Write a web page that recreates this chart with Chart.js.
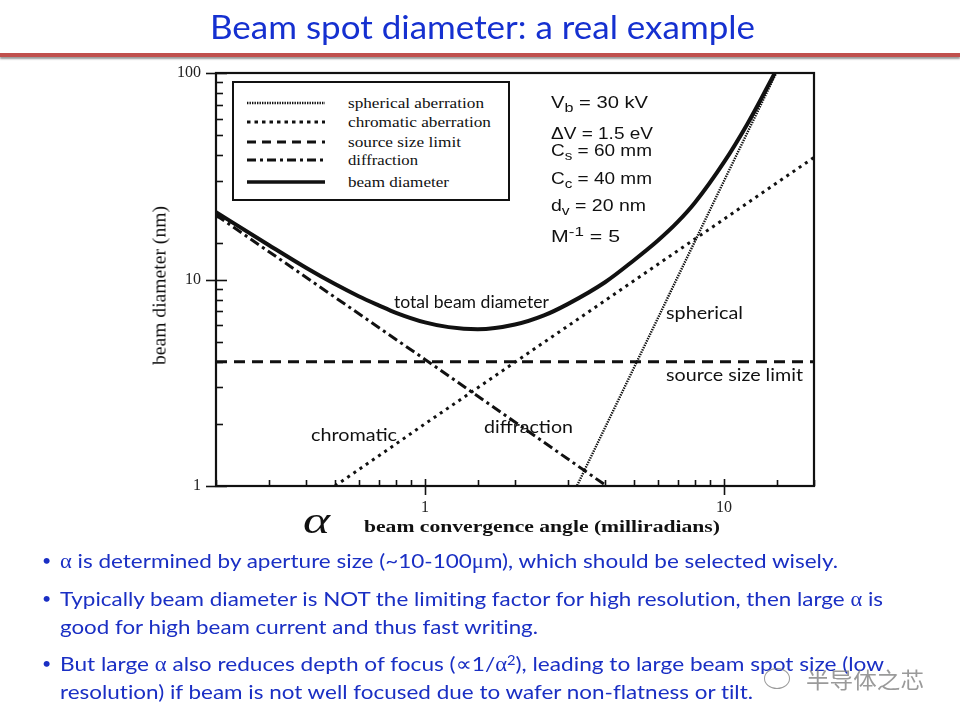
<!DOCTYPE html>
<html><head><meta charset="utf-8">
<script src="https://cdn.jsdelivr.net/npm/chart.js@4/dist/chart.umd.min.js"></script>
<style>
html,body{margin:0;padding:0;background:#fff;}
body{width:960px;height:720px;position:relative;overflow:hidden;}
#c{position:absolute;left:0;top:0;}
.t{position:absolute;white-space:nowrap;line-height:1;transform-origin:left center;}
#rule{position:absolute;left:0;top:53px;width:960px;height:4px;background:#c0504d;box-shadow:0 2px 2px #9a9a9a;}
#legend{position:absolute;left:232px;top:81px;width:278px;height:120px;border:2px solid #111;box-sizing:border-box;background:#fff;}
.sy{font-family:"Liberation Serif",serif;}
</style>
</head><body>
<div id="rule"></div>
<canvas id="c" width="960" height="720"></canvas>
<div id="legend"><svg width="278" height="120" style="position:absolute;left:-2px;top:-2px">
<line x1="15" y1="22" x2="93" y2="22" stroke="#111" stroke-width="2.4" stroke-dasharray="1.4 1.1"/>
<line x1="15" y1="41" x2="93" y2="41" stroke="#111" stroke-width="3" stroke-dasharray="3.5 4"/>
<line x1="15" y1="61" x2="93" y2="61" stroke="#111" stroke-width="3" stroke-dasharray="9 6"/>
<line x1="15" y1="79" x2="93" y2="79" stroke="#111" stroke-width="3" stroke-dasharray="9 4 3 4"/>
<line x1="15" y1="101" x2="93" y2="101" stroke="#111" stroke-width="3.5"/>
</svg></div>
<script>
// ---------- data ----------
const angleTickLabels = [1, 10];          // milliradians
const diameterTickLabels = [1, 10, 100];  // nm
const sphericalAngle = [3.2, 10, 15];
const sphericalDiam  = [0.98, 30, 101];
const chromaticAngle = [0.5, 1, 20];
const chromaticDiam  = [1.0, 2.0, 39];
const sourceAngle = [0.2, 20];
const sourceDiam  = [4, 4];
const diffractionAngle = [0.2, 1, 4.05];
const diffractionDiam  = [20.5, 4.1, 1.0];
const beamAngle = [0.2, 0.3, 0.4, 0.5, 0.6, 0.7, 0.8, 1.0, 1.2, 1.5, 2, 2.5, 3, 4, 5, 6, 7, 8, 10, 12, 14, 15];
const beamDiam  = [21.2, 14.7, 11.4, 9.5, 8.3, 7.5, 6.9, 6.2, 5.88, 5.74, 6.05, 6.7, 7.6, 9.7, 12.4, 15.4, 19.0, 23.6, 37, 57, 86, 104];
const seriesNames = ['spherical aberration','chromatic aberration','source size limit','diffraction','beam diameter'];

const pts = (xs, ys) => xs.map((x, i) => ({x, y: ys[i]}));
const isPow10 = v => Math.abs(Math.log10(v) - Math.round(Math.log10(v))) < 1e-6;

const frameTicks = {
  id: 'frameTicks',
  afterDraw(chart) {
    const {ctx, chartArea: a, scales: {x, y}} = chart;
    ctx.save();
    ctx.strokeStyle = '#111';
    ctx.lineWidth = 1.6;
    x.ticks.forEach(t => {
      const p = Math.round(x.getPixelForValue(t.value)) + 0.5;
      ctx.beginPath();
      if (isPow10(t.value)) { ctx.moveTo(p, a.bottom - 7); ctx.lineTo(p, a.bottom + 9); }
      else { ctx.moveTo(p, a.bottom); ctx.lineTo(p, a.bottom - 6); }
      ctx.stroke();
    });
    y.ticks.forEach(t => {
      const p = Math.round(y.getPixelForValue(t.value)) + 0.5;
      ctx.beginPath();
      if (isPow10(t.value)) { ctx.moveTo(a.left - 10, p); ctx.lineTo(a.left + 11, p); }
      else { ctx.moveTo(a.left, p); ctx.lineTo(a.left + 7, p); }
      ctx.stroke();
    });
    ctx.lineWidth = 2.2;
    ctx.strokeRect(a.left, a.top, a.right - a.left, a.bottom - a.top);
    ctx.restore();
  }
};

const base = {showLine: true, pointRadius: 0, borderColor: '#111', fill: false};
new Chart(document.getElementById('c'), {
  type: 'scatter',
  data: {
    datasets: [
      {...base, label: seriesNames[0], data: pts(sphericalAngle, sphericalDiam), borderWidth: 2.4, borderDash: [1.4, 1.1]},
      {...base, label: seriesNames[1], data: pts(chromaticAngle, chromaticDiam), borderWidth: 3, borderDash: [3, 4.5]},
      {...base, label: seriesNames[2], data: pts(sourceAngle, sourceDiam), borderWidth: 3, borderDash: [11, 7]},
      {...base, label: seriesNames[3], data: pts(diffractionAngle, diffractionDiam), borderWidth: 3, borderDash: [10, 4, 3, 4]},
      {...base, label: seriesNames[4], data: pts(beamAngle, beamDiam), borderWidth: 4, cubicInterpolationMode: 'monotone'}
    ]
  },
  options: {
    responsive: false,
    animation: false,
    layout: {padding: {left: 156, right: 146, top: 73, bottom: 194}},
    plugins: {legend: {display: false}, tooltip: {enabled: false}},
    scales: {
      x: {
        type: 'logarithmic', min: 0.2, max: 20,
        grid: {display: false, drawTicks: false}, border: {display: false},
        afterFit: s => { s.height = 40; },
        ticks: {autoSkip: false, maxRotation: 0, padding: 12, color: '#222',
          font: {family: 'Liberation Serif', size: 16},
          callback: v => angleTickLabels.includes(v) ? String(v) : ''}
      },
      y: {
        type: 'logarithmic', min: 1, max: 100,
        grid: {display: false, drawTicks: false}, border: {display: false},
        afterFit: s => { s.width = 60; },
        ticks: {autoSkip: false, padding: 15, color: '#222',
          font: {family: 'Liberation Serif', size: 16},
          callback: v => diameterTickLabels.includes(v) ? String(v) : ''}
      }
    }
  },
  plugins: [frameTicks]
});

// ---------- text ----------
const K = {'Lato': 0.887, 'Liberation Serif': 0.8375, 'Liberation Sans': 0.8465, 'Noto Sans CJK SC': 0.88};
function put(html, x, baseline, family, size, width, extra) {
  const d = document.createElement('div');
  d.className = 't';
  d.innerHTML = html;
  d.style.fontFamily = '"' + family + '"';
  d.style.fontSize = size + 'px';
  d.style.left = x + 'px';
  d.style.top = (baseline - K[family] * size) + 'px';
  if (extra) Object.assign(d.style, extra);
  document.body.appendChild(d);
  if (width) {
    const w = d.getBoundingClientRect().width;
    d.style.transform = 'scaleX(' + (width / w) + ')';
  }
  return d;
}
const blue = '#1a2fc4';
put('Beam spot diameter: a real example', 210, 39, 'Lato', 33, 545, {color: '#1530d0'});

// legend labels
put('spherical aberration', 348, 109, 'Liberation Serif', 15, 136, {color: '#111'});
put('chromatic aberration', 348, 128, 'Liberation Serif', 15, 143, {color: '#111'});
put('source size limit', 348, 148, 'Liberation Serif', 15, 113, {color: '#111'});
put('diffraction', 348, 166, 'Liberation Serif', 15, 70, {color: '#111'});
put('beam diameter', 348, 188, 'Liberation Serif', 15, 101, {color: '#111'});

// parameters
const sub = s => '<sub style="font-size:0.8em;vertical-align:-0.35em;line-height:0">' + s + '</sub>';
put('V' + sub('b') + ' = 30 kV', 551, 109, 'Liberation Sans', 16, 97, {color: '#111'});
put('ΔV = 1.5 eV', 551, 140, 'Liberation Sans', 16, 102, {color: '#111'});
put('C' + sub('s') + ' = 60 mm', 551, 157, 'Liberation Sans', 16, 101, {color: '#111'});
put('C' + sub('c') + ' = 40 mm', 551, 185, 'Liberation Sans', 16, 101, {color: '#111'});
put('d' + sub('v') + ' = 20 nm', 551, 212, 'Liberation Sans', 16, 95, {color: '#111'});
put('M<sup style="font-size:0.8em;vertical-align:0.45em;line-height:0">-1</sup> = 5', 551, 243, 'Liberation Sans', 16, 69, {color: '#111'});

// curve annotations
put('total beam diameter', 394, 308, 'Lato', 17, 155, {color: '#111'});
put('spherical', 666, 319, 'Lato', 17, 77, {color: '#111'});
put('source size limit', 666, 381, 'Lato', 17, 137, {color: '#111'});
put('chromatic', 311, 441, 'Lato', 17, 86, {color: '#111'});
put('diffraction', 484, 433, 'Lato', 17, 89, {color: '#111'});

// axis titles
put('<i>α</i>', 303, 533, 'Liberation Serif', 38, 27, {color: '#111'});
put('beam convergence angle (milliradians)', 364, 532, 'Liberation Serif', 17, 356, {color: '#111', fontWeight: 'bold'});
const yt = document.createElement('div');
yt.className = 't sy';
yt.textContent = 'beam diameter (nm)';
Object.assign(yt.style, {fontSize: '19px', color: '#111', left: '0px', top: '0px'});
document.body.appendChild(yt);
const yw = yt.getBoundingClientRect().width;
Object.assign(yt.style, {left: (159 - yw / 2) + 'px', top: (285 - 9.5) + 'px', transformOrigin: 'center center',
  transform: 'rotate(-90deg) scaleX(' + (159 / yw) + ')'});

// bullets
const aS = '<span style="font-family:\'Liberation Serif\'">α</span>';
const bl = [
  ['• ', aS + ' is determined by aperture size (~10-100<span style="font-family:\'Liberation Serif\'">μ</span>m), which should be selected wisely.', 568, 778],
  ['• ', 'Typically beam diameter is NOT the limiting factor for high resolution, then large ' + aS + ' is', 606, 823],
  ['', 'good for high beam current and thus fast writing.', 634, 478],
  ['• ', 'But large ' + aS + ' also reduces depth of focus (<span style="font-family:\'DejaVu Sans\'">∝</span>1/' + aS + '<sup style="font-size:0.65em;vertical-align:0.5em;line-height:0">2</sup>), leading to large beam spot size (low', 671, 824],
  ['', 'resolution) if beam is not well focused due to wafer non-flatness or tilt.', 699, 693]
];
bl.forEach(([b, txt, y, w]) => {
  if (b) put('•', 42, y - 2, 'Lato', 16, 0, {color: blue});
  put(txt, 60, y, 'Lato', 20, w, {color: blue, fontVariantLigatures: 'none'});
});

// watermark
put('半导体之芯', 806, 686, 'Noto Sans CJK SC', 22, 118, {color: 'rgba(120,120,120,0.75)'});
const ic = document.createElement('div');
Object.assign(ic.style, {position: 'absolute', left: '764px', top: '668px', width: '24px', height: '19px',
  border: '1.5px solid rgba(120,120,120,0.75)', borderRadius: '50%'});
document.body.appendChild(ic);
</script>
</body></html>
